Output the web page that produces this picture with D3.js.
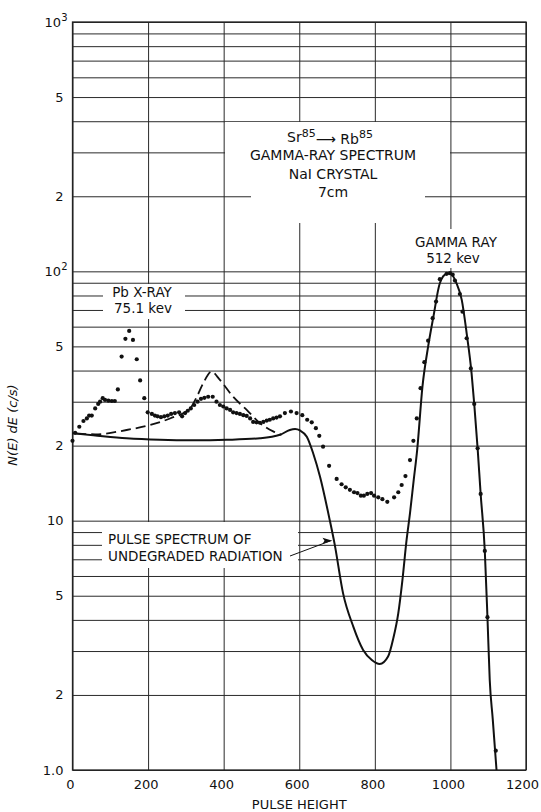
<!DOCTYPE html>
<html>
<head>
<meta charset="utf-8">
<script src="https://cdn.jsdelivr.net/npm/d3@7"></script>
<style>
body { margin: 0; background: #fff; }
text { font-family: "DejaVu Sans", sans-serif; fill: #111; }
</style>
</head>
<body>
<div class="chart"></div>
<script>
// measured points (pulse height, counts)
var dotX = [0, 7, 18, 29, 38, 44, 51, 60, 68, 73, 80, 86, 95, 104, 112, 120, 130, 140, 150, 160,
    170, 179, 190, 199, 210, 218, 225, 234, 243, 252, 261, 271, 282, 290, 298, 305, 313, 322, 331, 340,
    349, 359, 371, 381, 390, 399, 408, 417, 425, 434, 443, 452, 461, 470, 478, 487, 496, 505, 514, 522,
    531, 540, 549, 562, 578, 593, 608, 621, 633, 644, 653, 663, 679, 699, 712, 723, 734, 745, 754, 763,
    771, 780, 790, 798, 809, 820, 833, 851, 862, 871, 881, 893, 902, 911, 921, 931, 941, 953, 962, 972,
    990, 999, 1006, 1012, 1025, 1032, 1043, 1054, 1063, 1072, 1080, 1091, 1098, 1120];
var dotY = [20.9, 22.5, 23.8, 25.1, 25.7, 26.4, 26.4, 28.2, 29.4, 30.0, 31.0, 30.5, 30.3, 30.2, 30.2, 33.6, 45.5, 53.6, 57.7, 53.1,
    44.4, 36.5, 31.0, 27.2, 26.8, 26.4, 26.2, 26.0, 26.2, 26.4, 26.8, 27.0, 27.2, 26.2, 27.0, 27.6, 28.2, 29.1, 30.0, 30.8,
    31.1, 31.4, 31.4, 30.0, 29.1, 28.7, 28.2, 27.8, 27.2, 27.0, 26.8, 26.5, 26.3, 25.7, 24.9, 24.8, 24.7, 24.9, 25.2, 25.4,
    25.7, 25.9, 26.2, 27.0, 27.4, 27.0, 26.5, 25.4, 24.8, 23.5, 21.9, 19.8, 16.6, 14.7, 14.0, 13.6, 13.3, 13.0, 12.9, 12.6,
    12.6, 12.8, 12.9, 12.6, 12.4, 12.2, 11.9, 12.4, 13.0, 13.9, 15.1, 17.5, 20.9, 25.7, 34.0, 43.2, 52.7, 64.9, 75.6, 93,
    97.7, 98.3, 97, 91.8, 81.1, 68.9, 53.9, 40.8, 29.4, 19.5, 12.8, 7.56, 4.10, 1.195];

// pulse spectrum of undegraded radiation (solid)
var solidX = [0, 55, 143, 231, 320, 408, 496, 549, 575, 589, 602, 620, 637, 655, 681, 694, 716, 743, 769, 792,
    813, 835, 849, 862, 873, 884, 893, 903, 912, 926, 941, 955, 972, 990, 1000, 1016, 1030, 1043, 1056, 1063,
    1072, 1080, 1091, 1098, 1104, 1112, 1122];
var solidY = [22.4, 22.0, 21.4, 21.1, 21.0, 21.1, 21.4, 22.1, 23.1, 23.3, 23.0, 21.7, 18.6, 15.0, 10.0, 8.0, 5.11, 3.76, 3.03, 2.76,
    2.66, 2.85, 3.38, 4.25, 5.78, 8.37, 10.7, 14.6, 19.2, 34.5, 49.9, 65.8, 89.6, 97.7, 98, 89.6, 76.8, 56.4, 39.0, 29.4,
    19.5, 12.8, 7.56, 4.1, 2.3, 1.6, 1.0];

// dashed curve
var dashX = [10, 60, 143, 205, 258, 311, 329, 346, 368, 390, 425, 461, 496, 531, 553];
var dashY = [22.4, 22.2, 23.1, 24.2, 25.7, 28.2, 31.4, 35.6, 39.6, 36.7, 31.4, 27.8, 24.6, 22.8, 22.1];

var xTicks = [0, 200, 400, 600, 800, 1000, 1200];
var yTicks = [1, 2, 5, 10, 20, 50, 100, 200, 500, 1000];
var yTickBase = ["1.0", "2", "5", "10", "2", "5", "10", "2", "5", "10"];
var yTickSup = ["", "", "", "", "", "", "2", "", "", "3"];

var marg = {t: 22, r: 15, b: 42, l: 72.5};
var wid = 541 - marg.l - marg.r;
var hei = 812 - marg.t - marg.b;

var root = d3.select(".chart")
    .append("svg")
    .attr("width", 541)
    .attr("height", 812);

var svg = root.append("g")
    .attr("transform", "translate(" + marg.l + "," + marg.t + ")");

var x = d3.scaleLinear().domain([0, 1200]).range([0, wid]);
var y = d3.scaleLog().domain([1, 1000]).range([hei, 0]);

// log grid: 1..9 in every decade
var gridY = [];
[1, 10, 100].forEach(function(k) {
    for (var m = 1; m < 10; m++) gridY.push(m * k);
});
gridY.push(1000);

var gy = svg.append("g")
    .call(d3.axisLeft(y).tickValues(gridY).tickSize(-wid).tickFormat(""));
gy.select(".domain").remove();
gy.selectAll("line").attr("stroke", "#2a2a2a").attr("stroke-width", 1);

var gx = svg.append("g")
    .attr("transform", "translate(0," + hei + ")")
    .call(d3.axisBottom(x).tickValues(xTicks).tickSize(-hei).tickFormat(""));
gx.select(".domain").remove();
gx.selectAll("line").attr("stroke", "#2a2a2a").attr("stroke-width", 1);

// white patches behind the lettering
var masks = [
    [152.5, 100, 225, 73.5],
    [178.5, 100, 174, 101],
    [359.5, 207, 40, 39],
    [30.5, 262, 82, 35],
    [29.5, 500, 196, 46]
];
svg.selectAll("rect.mask")
    .data(masks)
    .enter().append("rect")
    .attr("class", "mask")
    .attr("x", function(d) { return d[0]; })
    .attr("y", function(d) { return d[1]; })
    .attr("width", function(d) { return d[2]; })
    .attr("height", function(d) { return d[3]; })
    .attr("fill", "#fff");

svg.append("rect")
    .attr("width", wid)
    .attr("height", hei)
    .attr("fill", "none")
    .attr("stroke", "#222")
    .attr("stroke-width", 1.3);

var solid = solidX.map(function(v, i) { return [v, solidY[i]]; });
var dash = dashX.map(function(v, i) { return [v, dashY[i]]; });
var dots = dotX.map(function(v, i) { return [v, dotY[i]]; });

var line = d3.line()
    .x(function(d) { return x(d[0]); })
    .y(function(d) { return y(d[1]); })
    .curve(d3.curveMonotoneX);

svg.append("path")
    .datum(dash)
    .attr("d", line)
    .attr("fill", "none")
    .attr("stroke", "#111")
    .attr("stroke-width", 1.8)
    .attr("stroke-dasharray", "10,5");

svg.append("path")
    .datum(solid)
    .attr("d", line)
    .attr("fill", "none")
    .attr("stroke", "#111")
    .attr("stroke-width", 2);

svg.selectAll("circle.dot")
    .data(dots)
    .enter().append("circle")
    .attr("class", "dot")
    .attr("cx", function(d) { return x(d[0]); })
    .attr("cy", function(d) { return y(d[1]); })
    .attr("r", 2.1)
    .attr("fill", "#111");

// tick labels
var ylab = svg.selectAll("text.ylab")
    .data(yTicks)
    .enter().append("text")
    .attr("class", "ylab")
    .attr("x", function(d, i) { return yTickSup[i] ? -5 : -9; })
    .attr("y", function(d) { return y(d); })
    .attr("dy", "0.35em")
    .attr("text-anchor", "end")
    .style("font-size", "13px");
ylab.append("tspan").text(function(d, i) { return yTickBase[i]; });
ylab.append("tspan")
    .attr("dy", "-0.55em")
    .style("font-size", "10px")
    .text(function(d, i) { return yTickSup[i]; });

svg.selectAll("text.xlab")
    .data(xTicks)
    .enter().append("text")
    .attr("class", "xlab")
    .attr("x", function(d) { return d === 1200 ? x(d) + 13 : x(d) - 2; })
    .attr("y", hei + 19)
    .attr("text-anchor", function(d) { return d === 1200 ? "end" : "middle"; })
    .style("font-size", "13px")
    .text(function(d) { return d; });

svg.append("text")
    .attr("x", wid / 2)
    .attr("y", hei + 39)
    .attr("text-anchor", "middle")
    .style("font-size", "13px")
    .text("PULSE HEIGHT");

root.append("text")
    .attr("transform", "translate(17,425) rotate(-90)")
    .attr("text-anchor", "middle")
    .style("font-size", "13px")
    .style("font-style", "italic")
    .text("N(E) dE (c/s)");

// title block
var t1 = root.append("text")
    .attr("x", 330)
    .attr("y", 142)
    .attr("text-anchor", "middle")
    .style("font-size", "14px");
t1.append("tspan").text("Sr");
t1.append("tspan").attr("dy", "-0.5em").style("font-size", "11px").text("85");
t1.append("tspan").attr("dy", "0.5em").text("\u27F6");
t1.append("tspan").text(" Rb");
t1.append("tspan").attr("dy", "-0.5em").style("font-size", "11px").text("85");

root.append("text").attr("x", 333).attr("y", 160).attr("text-anchor", "middle")
    .style("font-size", "14px").text("GAMMA-RAY SPECTRUM");
root.append("text").attr("x", 333).attr("y", 179).attr("text-anchor", "middle")
    .style("font-size", "14px").text("NaI CRYSTAL");
root.append("text").attr("x", 333).attr("y", 197).attr("text-anchor", "middle")
    .style("font-size", "14px").text("7cm");

root.append("text").attr("x", 456).attr("y", 247).attr("text-anchor", "middle")
    .style("font-size", "13.5px").text("GAMMA RAY");
root.append("text").attr("x", 453).attr("y", 263).attr("text-anchor", "middle")
    .style("font-size", "13.5px").text("512 kev");

root.append("text").attr("x", 142).attr("y", 297).attr("text-anchor", "middle")
    .style("font-size", "13.5px").text("Pb  X-RAY");
root.append("text").attr("x", 143).attr("y", 313).attr("text-anchor", "middle")
    .style("font-size", "13.5px").text("75.1 kev");

root.append("text").attr("x", 108).attr("y", 544)
    .style("font-size", "13.5px").text("PULSE SPECTRUM OF");
root.append("text").attr("x", 108).attr("y", 561)
    .style("font-size", "13.5px").text("UNDEGRADED RADIATION");

// pointer to the solid curve
var tipX = x(688) + marg.l, tipY = y(8.3) + marg.t;
root.append("line")
    .attr("x1", 290).attr("y1", 556)
    .attr("x2", tipX - 2).attr("y2", tipY)
    .attr("stroke", "#111").attr("stroke-width", 1);
root.append("path")
    .attr("d", "M" + tipX + "," + tipY + " l-10,-3 l2,3 l-2,3 z")
    .attr("fill", "#111");
</script>
</body>
</html>
